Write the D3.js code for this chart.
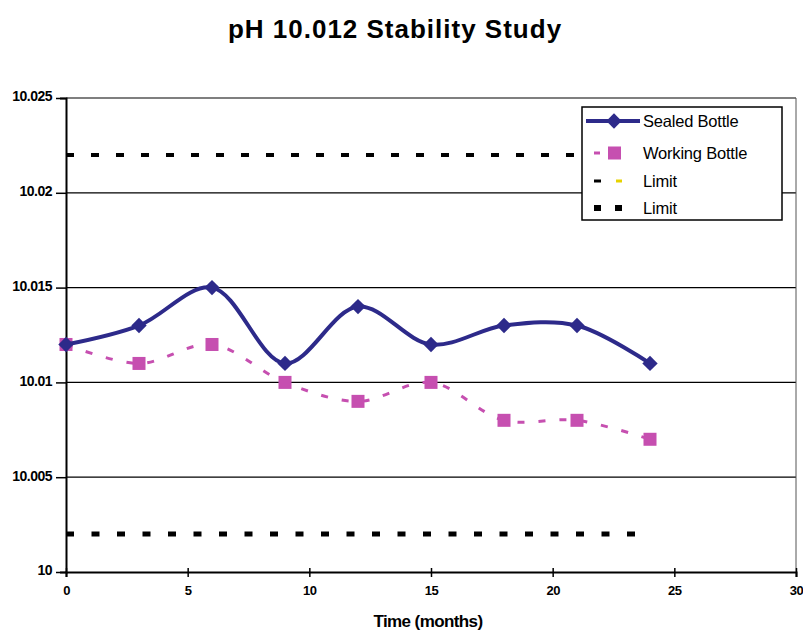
<!DOCTYPE html>
<html><head><meta charset="utf-8">
<script src="https://cdn.jsdelivr.net/npm/d3@7"></script>
<style>body{margin:0;background:#fff;} text{font-family:"Liberation Sans",Arial,sans-serif;}</style>
</head><body>
<svg id="c" width="803" height="630"></svg>
<script>
const months = [0,3,6,9,12,15,18,21,24];
const sealed = [10.012,10.013,10.015,10.011,10.014,10.012,10.013,10.013,10.011];
const working = [10.012,10.011,10.012,10.010,10.009,10.010,10.008,10.008,10.007];
const limitX = [0,24];
const upperLimit = [10.022,10.022];
const lowerLimit = [10.002,10.002];
const yTicks = [10,10.005,10.01,10.015,10.02,10.025];
const yTickLabels = ["10","10.005","10.01","10.015","10.02","10.025"];
const xTicks = [0,5,10,15,20,25,30];
const legendLabels = ["Sealed Bottle","Working Bottle","Limit","Limit"];

const svg = d3.select("#c");
const L=66,R=796,T=98,B=572;
const x = d3.scaleLinear().domain([0,30]).range([L,R]);
const y = d3.scaleLinear().domain([10,10.025]).range([B,T]);

svg.append("text").attr("x",395).attr("y",38).attr("text-anchor","middle")
  .attr("font-size",26).attr("font-weight","bold").attr("letter-spacing","1").text("pH 10.012 Stability Study");

// gridlines
svg.append("g").selectAll("line").data(yTicks.slice(1)).join("line")
  .attr("x1",L).attr("x2",R).attr("y1",d=>y(d)).attr("y2",d=>y(d))
  .attr("stroke","#000").attr("stroke-width",1.2);
// right border
svg.append("line").attr("x1",R).attr("x2",R).attr("y1",T).attr("y2",B).attr("stroke","#555").attr("stroke-width",1);

// axes
const yAxis = d3.axisLeft(y).tickValues(yTicks).tickFormat((d,i)=>yTickLabels[i]).tickSize(6).tickPadding(3);
const gy = svg.append("g").attr("transform",`translate(${L},0)`).call(yAxis);
gy.selectAll("text").attr("font-size",14).attr("font-weight","bold").attr("letter-spacing","-0.5").attr("font-family","Liberation Sans,Arial,sans-serif").attr("fill","#000").attr("dx",-5).attr("dy","0.2em");
gy.selectAll("line").attr("stroke","#000").attr("stroke-width",1.5).attr("x2",-10).attr("x1",0);
gy.select(".domain").attr("stroke","#000").attr("stroke-width",2);

const xAxis = d3.axisBottom(x).tickValues(xTicks).tickSize(5).tickPadding(9);
const gx = svg.append("g").attr("transform",`translate(0,${B})`).call(xAxis);
gx.selectAll("text").attr("font-size",13).attr("font-weight","bold").attr("letter-spacing","-0.5").attr("font-family","Liberation Sans,Arial,sans-serif").attr("fill","#000");
gx.selectAll(".tick line").attr("stroke","#000").attr("stroke-width",1.5).attr("y1",-4).attr("y2",5);
gx.select(".domain").attr("stroke","#000").attr("stroke-width",2);

svg.append("text").attr("x",428).attr("y",627).attr("text-anchor","middle")
  .attr("font-size",17).attr("font-weight","bold").attr("letter-spacing","-0.6").text("Time (months)");

// limits
const limLine = d3.line().x((d,i)=>x(limitX[i])).y(d=>y(d));
svg.append("path").attr("d",limLine(upperLimit)).attr("fill","none").attr("stroke","#000").attr("stroke-width",4).attr("stroke-dasharray","8,17");
svg.append("path").attr("d",limLine(lowerLimit)).attr("fill","none").attr("stroke","#000").attr("stroke-width",5).attr("stroke-dasharray","8,17.5");

const navy = "#2d2a8a", mag = "#c64fb0";
const line = d3.line().x((d,i)=>x(months[i])).y(d=>y(d)).curve(d3.curveCatmullRom.alpha(0.5));
svg.append("path").attr("d",line(working)).attr("fill","none").attr("stroke",mag).attr("stroke-width",3).attr("stroke-dasharray","7,14");
svg.append("g").selectAll("rect").data(working).join("rect")
  .attr("x",(d,i)=>x(months[i])-6.5).attr("y",d=>y(d)-6.5).attr("width",13).attr("height",13).attr("fill",mag);

svg.append("path").attr("d",line(sealed)).attr("fill","none").attr("stroke",navy).attr("stroke-width",4);
const diamond = d3.symbol().type(d3.symbolDiamond2).size(150);
svg.append("g").selectAll("path").data(sealed).join("path")
  .attr("transform",(d,i)=>`translate(${x(months[i])},${y(d)})`).attr("d",diamond).attr("fill",navy);

// legend
const lg = svg.append("g");
lg.append("rect").attr("x",582).attr("y",107).attr("width",200).attr("height",113).attr("fill","#fff").attr("stroke","#000").attr("stroke-width",1.5);
const rowsY = [121,153,181,208];
legendLabels.forEach((t,i)=>{
  lg.append("text").attr("x",643).attr("y",rowsY[i]+6).attr("font-size",16.5).attr("letter-spacing","-0.2").text(t);
});
lg.append("line").attr("x1",586).attr("x2",640).attr("y1",rowsY[0]).attr("y2",rowsY[0]).attr("stroke",navy).attr("stroke-width",4);
lg.append("path").attr("transform",`translate(614,${rowsY[0]})`).attr("d",diamond).attr("fill",navy);
lg.append("line").attr("x1",594).attr("x2",600).attr("y1",rowsY[1]).attr("y2",rowsY[1]).attr("stroke",mag).attr("stroke-width",3);
lg.append("rect").attr("x",608).attr("y",rowsY[1]-6.5).attr("width",13).attr("height",13).attr("fill",mag);
lg.append("line").attr("x1",594).attr("x2",601).attr("y1",rowsY[2]).attr("y2",rowsY[2]).attr("stroke","#000").attr("stroke-width",3);
lg.append("line").attr("x1",616).attr("x2",622).attr("y1",rowsY[2]).attr("y2",rowsY[2]).attr("stroke","#e6d200").attr("stroke-width",3);
lg.append("rect").attr("x",594).attr("y",rowsY[3]-3).attr("width",7).attr("height",6).attr("fill","#000");
lg.append("rect").attr("x",615).attr("y",rowsY[3]-3).attr("width",7).attr("height",6).attr("fill","#000");
</script>
</body></html>
